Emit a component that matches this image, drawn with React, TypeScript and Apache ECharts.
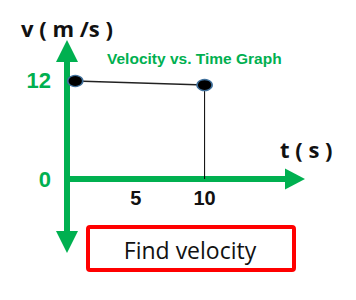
import React, { useEffect, useRef } from "react";
import * as echarts from "echarts";

const GREEN = "#00b050";

const xLabelValues = [5, 10];
const yLabelValues = [0, 12];
const velocityPoints: [number, number][] = [
  [0.6, 12],
  [10, 11.5],
];
const dropLine: [number, number][] = [
  [10, 11.5],
  [10, 0],
];

export default function App() {
  const ref = useRef<HTMLDivElement>(null);
  useEffect(() => {
    document.body.style.margin = "0";
    if (!ref.current) return;
    const chart = echarts.init(ref.current, undefined, { renderer: "svg" });
    chart.setOption({
      animation: false,
      backgroundColor: "#fff",
      title: {
        text: "Velocity vs. Time Graph",
        left: 107,
        top: 50,
        padding: 0,
        textStyle: {
          color: GREEN,
          fontSize: 15.5,
          fontWeight: "bold",
          fontFamily: "Liberation Sans",
        },
      },
      grid: { left: 67, right: 61, top: 51, bottom: 58 },
      xAxis: {
        type: "value",
        min: 0,
        max: 16.57,
        offset: -63,
        axisLine: {
          show: true,
          onZero: false,
          symbol: ["none", "triangle"],
          symbolSize: [21, 20],
          lineStyle: { color: GREEN, width: 6 },
        },
        axisTick: { show: false },
        splitLine: { show: false },
        axisLabel: {
          customValues: xLabelValues,
          margin: 9,
          color: "#111",
          fontSize: 20,
          fontWeight: "bold",
          fontFamily: "Liberation Sans",
        },
      },
      yAxis: {
        type: "value",
        min: -7.71,
        max: 15.67,
        name: "v ( m /s )",
        nameLocation: "end",
        nameGap: 12,
        nameTextStyle: {
          color: "#111",
          fontSize: 22,
          fontWeight: "bold",
          fontFamily: "Open Sans",
        },
        axisLine: {
          show: true,
          symbol: ["triangle", "triangle"],
          symbolSize: [22, 22],
          lineStyle: { color: GREEN, width: 6 },
        },
        axisTick: { show: false },
        splitLine: { show: false },
        axisLabel: {
          customValues: yLabelValues,
          margin: 16,
          color: GREEN,
          fontSize: 22,
          fontWeight: "bold",
          fontFamily: "Liberation Sans",
        },
      },
      graphic: [
        {
          type: "text",
          left: 280,
          top: 138,
          style: {
            text: "t ( s )",
            fill: "#111",
            fontSize: 22,
            fontWeight: "bold",
            fontFamily: "Open Sans",
          },
        },
        {
          type: "rect",
          shape: { x: 88, y: 227, width: 206, height: 43, r: 2 },
          style: { fill: "#fff", stroke: "#ff0000", lineWidth: 4 },
        },
        {
          type: "text",
          x: 190,
          y: 250,
          style: {
            text: "Find velocity",
            fill: "#111",
            fontSize: 23,
            fontFamily: "Open Sans",
            align: "center",
            verticalAlign: "middle",
          },
        },
      ],
      series: [
        {
          type: "line",
          data: dropLine,
          symbol: "none",
          lineStyle: { color: "#000", width: 1 },
          z: 2,
        },
        {
          type: "line",
          data: velocityPoints,
          symbol: "circle",
          symbolSize: [15, 11],
          itemStyle: { color: "#000", borderColor: "#41719c", borderWidth: 1.5 },
          lineStyle: { color: "#222", width: 1.5 },
          z: 3,
        },
      ],
    });
    return () => chart.dispose();
  }, []);
  return <div ref={ref} style={{ width: 356, height: 300 }} />;
}
